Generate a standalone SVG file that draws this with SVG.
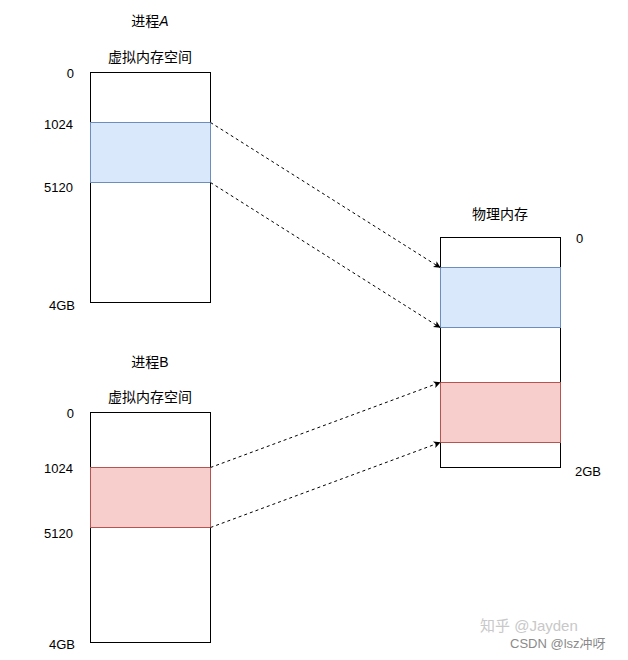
<svg xmlns="http://www.w3.org/2000/svg" width="628" height="660" viewBox="0 0 628 660">
<style>
text{font-family:"Liberation Sans","Noto Sans CJK SC",sans-serif;font-size:13px;fill:#000}
.h{font-size:14px}
.c{text-anchor:middle}
.r{text-anchor:end}
.box{fill:#fff;stroke:#000;stroke-width:1}
.blue{fill:#dae8fc;stroke:#6c8ebf;stroke-width:1}
.red{fill:#f8cecc;stroke:#b85450;stroke-width:1}
.ln{fill:none;stroke:#000;stroke-width:1;stroke-dasharray:3 3}
</style>
<defs>
<marker id="ah" viewBox="0 0 10 10" refX="9" refY="5" markerWidth="7" markerHeight="7" orient="auto" markerUnits="userSpaceOnUse">
<path d="M0,0 L10,5 L0,10 L2.5,5 Z" fill="#000"/>
</marker>
</defs>
<rect width="628" height="660" fill="#fff"/>
<g id="procA">
<text class="c h" x="150" y="26">进程<tspan font-style="italic">A</tspan></text>
<text class="c h" x="150" y="62">虚拟内存空间</text>
<rect class="box" x="90.5" y="72.5" width="120" height="230"/>
<rect class="blue" x="90.5" y="122.5" width="120" height="60"/>
<text class="r" x="74" y="78">0</text>
<text class="r" x="73" y="129">1024</text>
<text class="r" x="73" y="192">5120</text>
<text class="r" x="75" y="310">4GB</text>
</g>
<g id="procB">
<text class="c h" x="150" y="367">进程B</text>
<text class="c h" x="150" y="402">虚拟内存空间</text>
<rect class="box" x="90.5" y="412.5" width="120" height="230"/>
<rect class="red" x="90.5" y="467.5" width="120" height="60"/>
<text class="r" x="74" y="418">0</text>
<text class="r" x="73" y="473">1024</text>
<text class="r" x="73" y="538">5120</text>
<text class="r" x="75" y="649">4GB</text>
</g>
<g id="phys">
<text class="c h" x="500" y="219">物理内存</text>
<rect class="box" x="440.5" y="237.5" width="120" height="230"/>
<rect class="blue" x="440.5" y="267.5" width="120" height="60"/>
<rect class="red" x="440.5" y="382.5" width="120" height="60"/>
<text x="576" y="243">0</text>
<text x="575" y="476">2GB</text>
</g>
<g id="connectors">
<line class="ln" x1="210.5" y1="122.5" x2="440" y2="267.5" marker-end="url(#ah)"/>
<line class="ln" x1="210.5" y1="182.5" x2="440" y2="327.5" marker-end="url(#ah)"/>
<line class="ln" x1="210.5" y1="467.5" x2="440" y2="382.5" marker-end="url(#ah)"/>
<line class="ln" x1="210.5" y1="527.5" x2="440" y2="442.5" marker-end="url(#ah)"/>
</g>
<g id="watermark">
<text x="480" y="631" style="fill:#c8c8c8;font-size:15px">知乎 @Jayden</text>
<text x="510" y="648" style="fill:#8a8a8a;font-size:13px">CSDN @lsz冲呀</text>
</g>
</svg>
